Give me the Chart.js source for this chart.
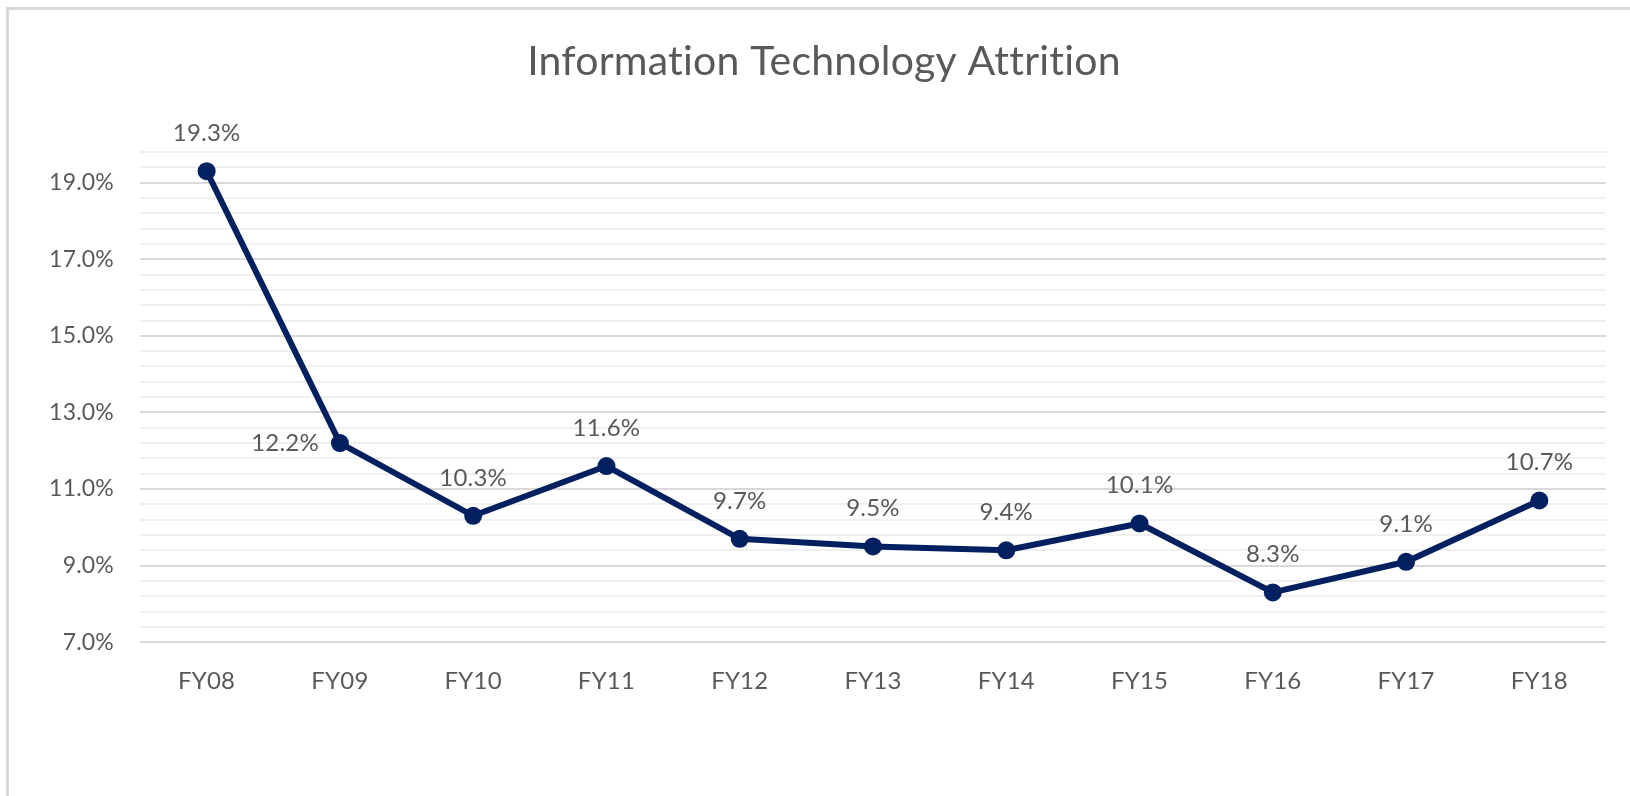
<!DOCTYPE html>
<html>
<head>
<meta charset="utf-8">
<script src="https://cdn.jsdelivr.net/npm/chart.js@4.4.1/dist/chart.umd.min.js"></script>
<style>
  html, body { margin: 0; padding: 0; background: #fff; }
  body { width: 1630px; height: 796px; overflow: hidden; position: relative; }
  #frame { position: absolute; left: 6px; top: 7px; width: 1700px; height: 900px;
           border-top: 3px solid #d9d9d9; border-left: 3px solid #d9d9d9; box-sizing: border-box; }
  #wrap { position: absolute; left: 0; top: 0; width: 1630px; height: 796px; }
</style>
</head>
<body>
<div id="frame"></div>
<div id="wrap"><canvas id="c" width="1630" height="796"></canvas></div>
<script>
const titleText = 'Information Technology Attrition';
const categories = ['FY08','FY09','FY10','FY11','FY12','FY13','FY14','FY15','FY16','FY17','FY18'];
const attrition = [19.3, 12.2, 10.3, 11.6, 9.7, 9.5, 9.4, 10.1, 8.3, 9.1, 10.7];
const yMin = 7.0, yMax = 19.8, yStep = 0.4, yLabelEvery = 2.0;

const textColor = '#595959';
const lineColor = '#002060';
const fontFamily = 'Lato, "Open Sans", sans-serif';

function isMajor(v) {
  const r = (v - yMin) / yLabelEvery;
  return Math.abs(r - Math.round(r)) < 1e-6;
}

const noLigPlugin = {
  id: 'noLig',
  beforeDraw(chart) { try { chart.ctx.letterSpacing = '0.2px'; } catch (e) {} }
};

const titlePlugin = {
  id: 'chartTitle',
  afterDraw(chart) {
    const ctx = chart.ctx;
    ctx.save();
    ctx.font = '41px ' + fontFamily;
    ctx.fillStyle = textColor;
    ctx.textAlign = 'center';
    ctx.textBaseline = 'middle';
    ctx.fillText(titleText, 824, 62);
    ctx.restore();
  }
};

const labelPlugin = {
  id: 'pointLabels',
  afterDatasetsDraw(chart) {
    const ctx = chart.ctx;
    const meta = chart.getDatasetMeta(0);
    ctx.save();
    ctx.font = '24px ' + fontFamily;
    ctx.fillStyle = textColor;
    ctx.textBaseline = 'middle';
    meta.data.forEach((pt, i) => {
      const txt = attrition[i].toFixed(1) + '%';
      if (i === 1) {
        ctx.textAlign = 'right';
        ctx.fillText(txt, pt.x - 21, pt.y);
      } else {
        ctx.textAlign = 'center';
        ctx.fillText(txt, pt.x, pt.y - 38);
      }
    });
    ctx.restore();
  }
};

new Chart(document.getElementById('c'), {
  type: 'line',
  data: {
    labels: categories,
    datasets: [{
      data: attrition,
      borderColor: lineColor,
      backgroundColor: lineColor,
      borderWidth: 6,
      pointRadius: 9,
      pointHoverRadius: 9,
      pointBackgroundColor: lineColor,
      pointBorderWidth: 0,
      tension: 0,
      fill: false
    }]
  },
  options: {
    responsive: false,
    animation: false,
    events: [],
    layout: { padding: { left: 0, right: 24, top: 152, bottom: 75 } },
    plugins: {
      legend: { display: false },
      tooltip: { enabled: false },
      title: { display: false }
    },
    scales: {
      x: {
        offset: true,
        grid: { display: false, drawTicks: false },
        border: { display: false },
        ticks: { color: textColor, font: { family: fontFamily, size: 24 }, padding: 25, maxRotation: 0 }
      },
      y: {
        min: yMin,
        max: yMax,
        afterFit(scale) { scale.width = 140; },
        grid: {
          drawTicks: false,
          lineWidth: 2,
          color: (c) => isMajor(c.tick.value) ? '#d9d9d9' : '#f0f0f0'
        },
        border: { display: false },
        ticks: {
          stepSize: yStep,
          autoSkip: false,
          padding: 26,
          color: textColor,
          font: { family: fontFamily, size: 23 },
          callback: (v) => isMajor(v) ? v.toFixed(1) + '%' : ''
        }
      }
    }
  },
  plugins: [noLigPlugin, titlePlugin, labelPlugin]
});
</script>
</body>
</html>
